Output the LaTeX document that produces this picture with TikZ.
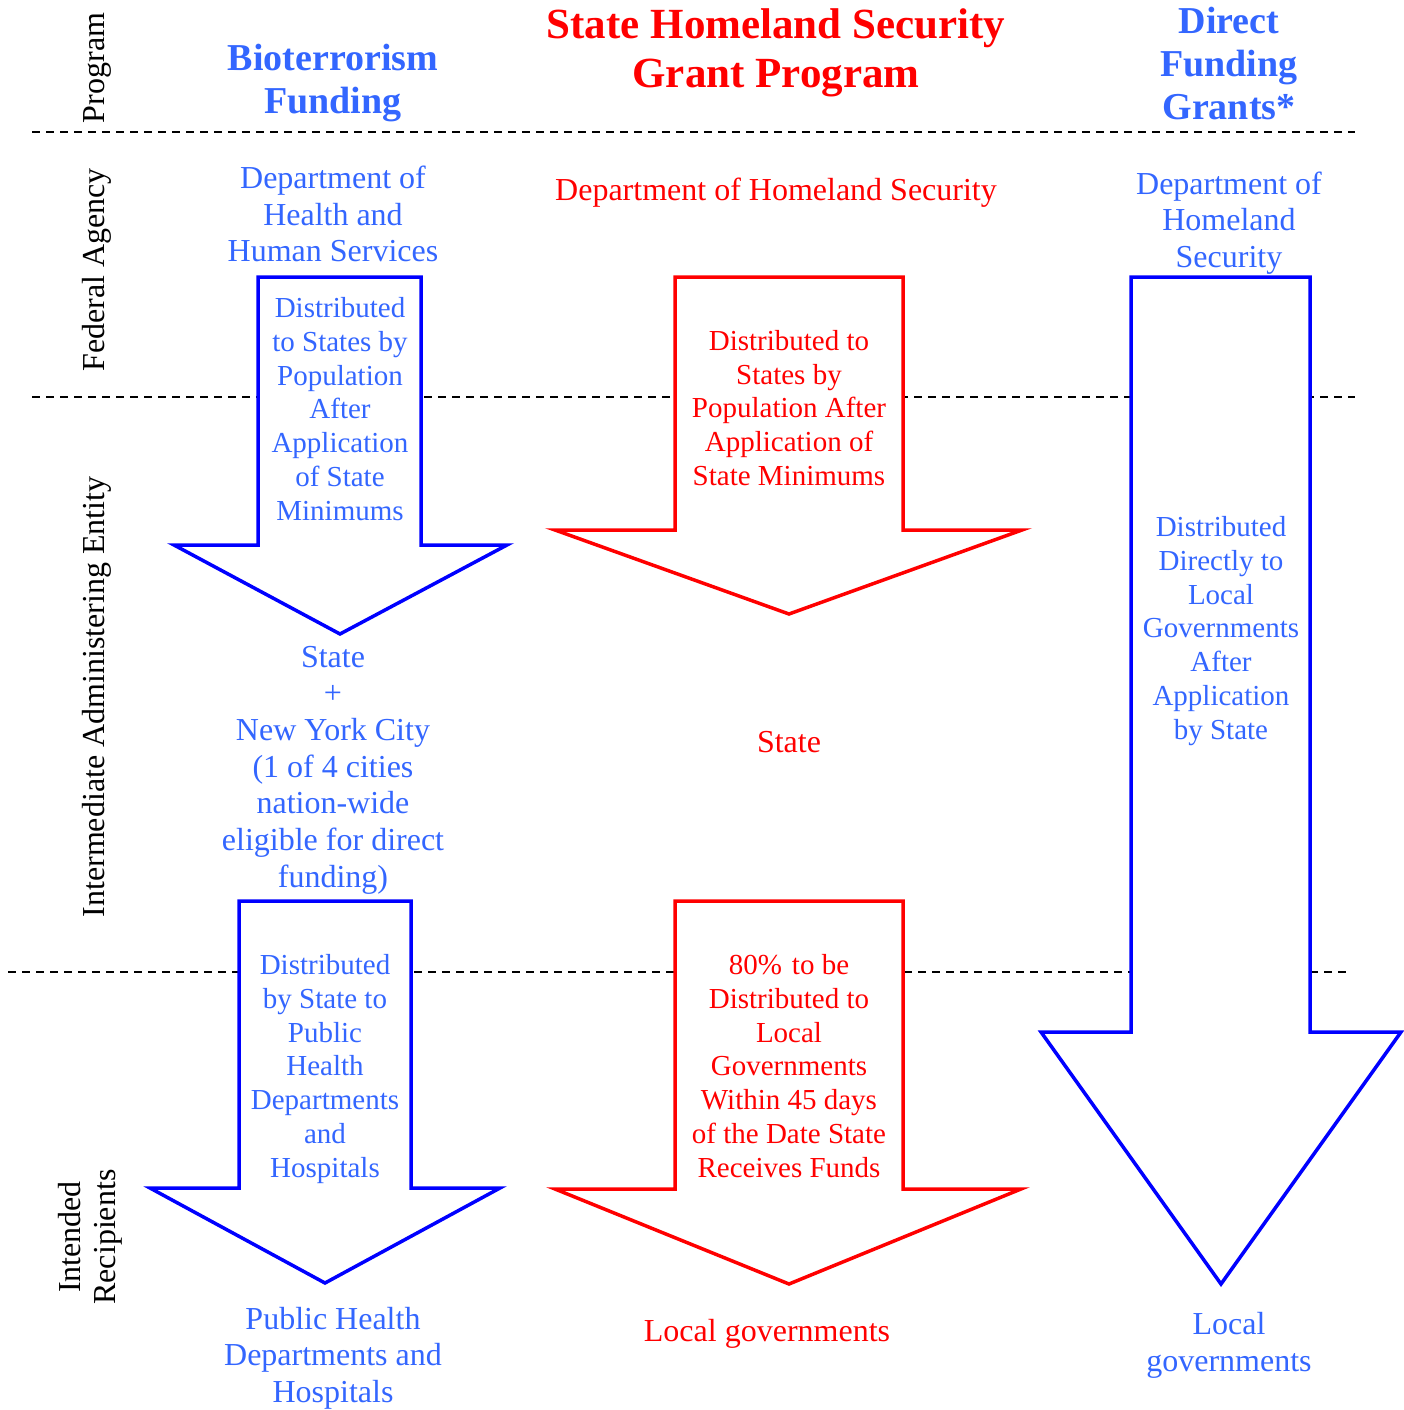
\documentclass[tikz,border=0pt]{standalone}
\usepackage{fontspec}
\setmainfont{Liberation Serif}
\definecolor{tblue}{HTML}{3366FF}
\definecolor{ablue}{HTML}{0000FF}
\definecolor{tred}{HTML}{FF0000}
\begin{document}
\begin{tikzpicture}[x=1pt,y=-1pt,
  every node/.style={inner sep=0pt, align=center},
  smalltext/.style={font=\fontsize{29}{33.8}\selectfont},
  midtext/.style={font=\fontsize{32}{36.7}\selectfont},
  titletext/.style={font=\bfseries\fontsize{38}{43}\selectfont},
  bigtitle/.style={font=\bfseries\fontsize{43}{49}\selectfont},
  rowlabel/.style={font=\fontsize{32}{35}\selectfont, rotate=90, text=black},
  divider/.style={line width=1.8pt, dash pattern=on 8pt off 6pt},
  bigarrow/.style={line width=3.5pt, fill=white, line join=miter}
]
\useasboundingbox (0,0) rectangle (1404,1410);

% dividers
\draw[divider] (32,132) -- (1355,132);
\draw[divider] (32,397) -- (1355,397);
\draw[divider] (8,972) -- (1347,972);

% row labels
\node[rowlabel] (lprog) at (97,68) {Program};
\node[rowlabel] (lfed) at (97,270) {Federal Agency};
\node[rowlabel] (lint) at (97,697) {Intermediate Administering Entity};
\node[rowlabel] (lrec) at (90,1237) {Intended\\Recipients};

% arrows
\draw[bigarrow, draw=ablue] (258,277) -- (421,277) -- (421,545) -- (507,545) -- (340,634) -- (174,545) -- (258,545) -- cycle;
\draw[bigarrow, draw=tred] (675,277) -- (903,277) -- (903,530) -- (1022,530) -- (789,614) -- (555,530) -- (675,530) -- cycle;
\draw[bigarrow, draw=ablue] (1131,277) -- (1310,277) -- (1310,1032) -- (1401,1032) -- (1221,1284) -- (1041,1032) -- (1131,1032) -- cycle;
\draw[bigarrow, draw=ablue] (239,901) -- (411,901) -- (411,1188) -- (500,1188) -- (325,1283) -- (150,1188) -- (239,1188) -- cycle;
\draw[bigarrow, draw=tred] (675,901) -- (903,901) -- (903,1189) -- (1021,1189) -- (789,1284) -- (555,1189) -- (675,1189) -- cycle;

% titles
\node[titletext, text=tblue] (tbio) at (333,83) {Bioterrorism\\Funding};
\node[bigtitle, text=tred] (tshs) at (776,53) {State Homeland Security\\Grant Program};
\node[titletext, text=tblue] (tdir) at (1229,64) {Direct\\Funding\\Grants*};

% federal agencies
\node[midtext, text=tblue] (fhhs) at (333,214) {Department of\\Health and\\Human Services};
\node[midtext, text=tred] (fdhs) at (776,193) {Department of Homeland Security};
\node[midtext, text=tblue] (fdhs2) at (1229,223) {Department of\\Homeland\\Security};

% arrow texts
\node[smalltext, text=tblue] (a1) at (340,409) {Distributed\\to States by\\Population\\After\\Application\\of State\\Minimums};
\node[smalltext, text=tred] (a2) at (789,408) {Distributed to\\States by\\Population After\\Application of\\State Minimums};
\node[smalltext, text=tblue] (a3) at (1221,631) {Distributed\\Directly to\\Local\\Governments\\After\\Application\\by State};
\node[smalltext, text=tblue] (a4) at (325,1069) {Distributed\\by State to\\Public\\Health\\Departments\\and\\Hospitals};
\node[smalltext, text=tred] (a5) at (789,1066) {80\%\hspace{10pt}to be\\Distributed to\\Local\\Governments\\Within 45 days\\of the Date State\\Receives Funds};

% intermediate
\node[midtext, text=tblue] (istate) at (333,770) {State\\+\\New York City\\(1 of 4 cities\\nation-wide\\eligible for direct\\funding)};
\node[midtext, text=tred] (istate2) at (789,742) {State};

% recipients
\node[midtext, text=tblue] (rph) at (333,1358) {Public Health\\Departments and\\Hospitals};
\node[midtext, text=tred] (rlg) at (767,1334) {Local governments};
\node[midtext, text=tblue] (rlg2) at (1229,1345) {Local\\governments};
\end{tikzpicture}
\end{document}
